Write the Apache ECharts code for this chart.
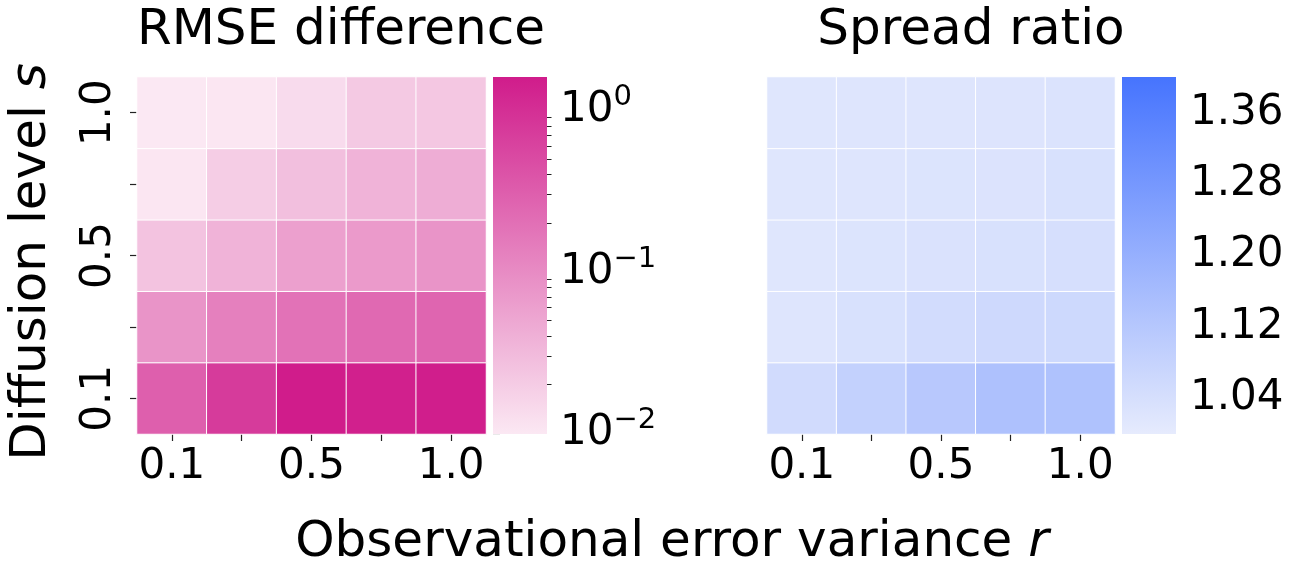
<!DOCTYPE html>
<html>
<head>
<meta charset="utf-8">
<script src="https://cdn.jsdelivr.net/npm/echarts@6/dist/echarts.min.js"></script>
<style>
html,body{margin:0;padding:0;background:#fff;}
#chart{width:1291px;height:568px;}
</style>
</head>
<body>
<div id="chart"></div>
<script>
// ---- data ----
const rCats = ['0.1', '0.25', '0.5', '0.75', '1.0'];      // observational error variance r (x)
const sCats = ['0.1', '0.25', '0.5', '0.75', '1.0'];      // diffusion level s (y, bottom -> top)
// RMSE difference, rows follow sCats (s = 0.1 first), columns follow rCats
const rmseRow_s01 = [0.30, 0.75, 1.607, 1.45, 1.52];
const rmseRow_s025 = [0.080, 0.133, 0.19, 0.233, 0.258];
const rmseRow_s05 = [0.0249, 0.0374, 0.0592, 0.0688, 0.080];
const rmseRow_s075 = [0.0105, 0.0193, 0.0276, 0.0374, 0.0435];
const rmseRow_s10 = [0.0099, 0.0105, 0.0136, 0.0214, 0.0225];
// Spread ratio
const sprRow_s01 = [1.053, 1.087, 1.116, 1.140, 1.138];
const sprRow_s025 = [1.020, 1.035, 1.050, 1.060, 1.062];
const sprRow_s05 = [1.018, 1.024, 1.030, 1.034, 1.040];
const sprRow_s075 = [1.018, 1.020, 1.024, 1.026, 1.034];
const sprRow_s10 = [1.017, 1.019, 1.021, 1.023, 1.027];
// colour scale limits and colourbar ticks
const rmseMin = 0.0099, rmseMax = 1.607;
const rmseMajorTicks = [0.01, 0.1, 1];
const sprMin = 1.0, sprMax = 1.4;
const sprTicks = [1.04, 1.12, 1.20, 1.28, 1.36];

const rmseRows = [rmseRow_s01, rmseRow_s025, rmseRow_s05, rmseRow_s075, rmseRow_s10];
const sprRows = [sprRow_s01, sprRow_s025, sprRow_s05, sprRow_s075, sprRow_s10];

const pinkLight = '#fbe8f3', pinkDark = '#d01c8b';
const blueLight = '#e6ebfd', blueDark = '#4674fe';
const FONT = 'DejaVu Sans';
const lg = Math.log10;

const rmseData = [], sprData = [];
rmseRows.forEach((row, i) => row.forEach((v, j) => rmseData.push([j, i, lg(v)])));
sprRows.forEach((row, i) => row.forEach((v, j) => sprData.push([j, i, v])));

const rmseMinor = [];
[-3, -2, -1, 0].forEach(e => { for (let k = 2; k <= 9; k++) { const v = k * Math.pow(10, e); if (v > rmseMin && v < rmseMax) rmseMinor.push(lg(v)); } });

const G = { top: 77, height: 357 };
const grids = [
  { left: 137, top: G.top, width: 349, height: G.height },
  { left: 493, top: G.top, width: 54, height: G.height },
  { left: 767, top: G.top, width: 348, height: G.height },
  { left: 1122, top: G.top, width: 54, height: G.height }
];

function catX(gi) {
  return {
    type: 'category', gridIndex: gi, data: rCats,
    axisLine: { show: false },
    axisTick: { show: true, interval: 0, alignWithLabel: true, length: 7, lineStyle: { color: '#222', width: 1.2 } },
    axisLabel: { interval: 1, fontFamily: FONT, fontSize: 42, color: '#000', margin: 12 },
    splitLine: { show: false }
  };
}
function hiddenVal(gi) {
  return { type: 'value', gridIndex: gi, min: 0, max: 1, show: false };
}
function gradientRenderer(light, dark) {
  return function (params, api) {
    const p0 = api.coord([api.value(0), api.value(1)]);
    const p1 = api.coord([api.value(2), api.value(3)]);
    return {
      type: 'rect',
      shape: { x: p0[0], y: p1[1], width: p1[0] - p0[0], height: p0[1] - p1[1] },
      style: { fill: new echarts.graphic.LinearGradient(0, 1, 0, 0, [{ offset: 0, color: light }, { offset: 1, color: dark }]) }
    };
  };
}
function supExp(e) { return (e < 0 ? '\u2212' : '') + Math.abs(e); }

const option = {
  animation: false,
  backgroundColor: '#fff',
  grid: grids,
  xAxis: [catX(0), hiddenVal(1), catX(2), hiddenVal(3)],
  yAxis: [
    {
      type: 'category', gridIndex: 0, data: sCats,
      axisLine: { show: false },
      axisTick: { show: true, interval: 0, alignWithLabel: true, length: 7, lineStyle: { color: '#222', width: 1.2 } },
      axisLabel: { interval: 1, rotate: 90, fontFamily: FONT, fontSize: 42, color: '#000', margin: 17 },
      splitLine: { show: false }
    },
    {
      type: 'value', gridIndex: 1, position: 'right', min: lg(rmseMin), max: lg(rmseMax),
      axisLine: { show: false }, splitLine: { show: false },
      axisTick: { show: true, length: 7, customValues: rmseMajorTicks.map(lg), lineStyle: { color: '#222', width: 1.2 } },
      axisLabel: {
        customValues: rmseMajorTicks.map(lg), margin: 13, color: '#000',
        formatter: v => '{base|10}{sup|' + supExp(Math.round(v)) + '}',
        rich: {
          base: { fontFamily: FONT, fontSize: 42, lineHeight: 54, color: '#000' },
          sup: { fontFamily: FONT, fontSize: 29, lineHeight: 29, verticalAlign: 'top', color: '#000' }
        }
      }
    },
    {
      type: 'value', gridIndex: 1, position: 'right', min: lg(rmseMin), max: lg(rmseMax),
      axisLine: { show: false }, splitLine: { show: false },
      axisTick: { show: true, length: 4.5, customValues: rmseMinor, lineStyle: { color: '#222', width: 1 } },
      axisLabel: { show: false }
    },
    {
      type: 'category', gridIndex: 2, data: sCats,
      axisLine: { show: false }, axisTick: { show: false }, axisLabel: { show: false }, splitLine: { show: false }
    },
    {
      type: 'value', gridIndex: 3, position: 'right', min: sprMin, max: sprMax,
      axisLine: { show: false }, splitLine: { show: false },
      axisTick: { show: true, length: 7, customValues: sprTicks, lineStyle: { color: '#222', width: 1.2 } },
      axisLabel: { customValues: sprTicks, margin: 14, fontFamily: FONT, fontSize: 42, color: '#000', formatter: v => v.toFixed(2) }
    }
  ],
  visualMap: [
    { type: 'continuous', show: false, seriesIndex: 0, dimension: 2, min: lg(rmseMin), max: lg(rmseMax), inRange: { color: [pinkLight, pinkDark] } },
    { type: 'continuous', show: false, seriesIndex: 2, dimension: 2, min: sprMin, max: sprMax, inRange: { color: [blueLight, blueDark] } }
  ],
  series: [
    {
      type: 'heatmap', xAxisIndex: 0, yAxisIndex: 0, data: rmseData,
      itemStyle: { borderColor: '#fff', borderWidth: 1 }, emphasis: { disabled: true }
    },
    {
      type: 'custom', xAxisIndex: 1, yAxisIndex: 1, silent: true,
      data: [[0, lg(rmseMin), 1, lg(rmseMax)]],
      renderItem: gradientRenderer(pinkLight, pinkDark)
    },
    {
      type: 'heatmap', xAxisIndex: 2, yAxisIndex: 3, data: sprData,
      itemStyle: { borderColor: '#fff', borderWidth: 1 }, emphasis: { disabled: true }
    },
    {
      type: 'custom', xAxisIndex: 3, yAxisIndex: 4, silent: true,
      data: [[0, sprMin, 1, sprMax]],
      renderItem: gradientRenderer(blueLight, blueDark)
    }
  ],
  graphic: [
    { type: 'text', x: 341, y: 31, style: { text: 'RMSE difference', font: '50px "DejaVu Sans"', fill: '#000', textAlign: 'center', textVerticalAlign: 'middle' } },
    { type: 'text', x: 971, y: 31, style: { text: 'Spread ratio', font: '50px "DejaVu Sans"', fill: '#000', textAlign: 'center', textVerticalAlign: 'middle' } },
    { type: 'text', x: 672, y: 543, style: { text: 'Observational error variance {it|r}', font: '50px "DejaVu Sans"', fill: '#000', textAlign: 'center', textVerticalAlign: 'middle', rich: { it: { fontStyle: 'italic', fontFamily: FONT, fontSize: 50 } } } },
    { type: 'text', x: 32, y: 262, rotation: Math.PI / 2, style: { text: 'Diffusion level {it|s}', font: '50px "DejaVu Sans"', fill: '#000', textAlign: 'center', textVerticalAlign: 'middle', rich: { it: { fontStyle: 'italic', fontFamily: FONT, fontSize: 50 } } } }
  ]
};

const chart = echarts.init(document.getElementById('chart'), null, { renderer: 'canvas' });
chart.setOption(option);
</script>
</body>
</html>
